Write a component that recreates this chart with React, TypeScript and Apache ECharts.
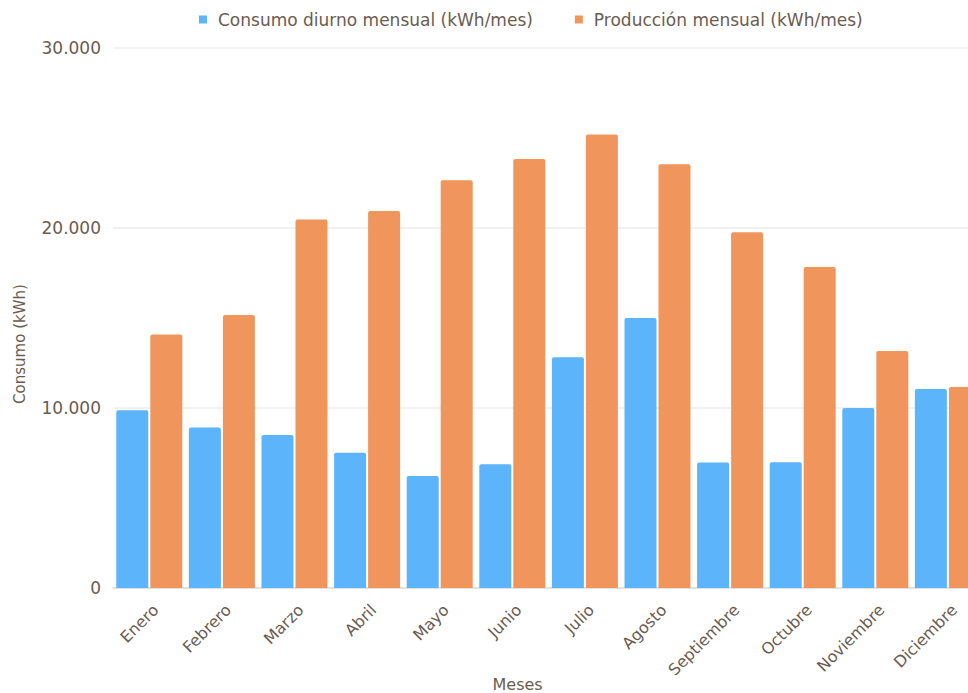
import React, { useEffect, useRef } from "react";
import * as echarts from "echarts";

const months = [
  "Enero",
  "Febrero",
  "Marzo",
  "Abril",
  "Mayo",
  "Junio",
  "Julio",
  "Agosto",
  "Septiembre",
  "Octubre",
  "Noviembre",
  "Diciembre",
];

const dailyConsumption = [9870, 8910, 8500, 7520, 6220, 6870, 12820, 15000, 6970, 6980, 10000, 11060];
const monthlyProduction = [14080, 15170, 20470, 20940, 22650, 23830, 25200, 23540, 19760, 17830, 13170, 11170];

const seriesNames = ["Consumo diurno mensual (kWh/mes)", "Producción mensual (kWh/mes)"];
const yMin = 0;
const yMax = 30000;
const yStep = 10000;

const BLUE = "#5cb4fa";
const ORANGE = "#f0955c";
const TEXT = "#6b5c50";
const FONT = "DejaVu Sans";

// Spanish-style thousands separator: 30000 -> "30.000"
const fmt = (v: number) => String(v).replace(/\B(?=(\d{3})+(?!\d))/g, ".");

export default function App() {
  const ref = useRef<HTMLDivElement>(null);

  useEffect(() => {
    if (!ref.current) return;
    const chart = echarts.init(ref.current, undefined, { renderer: "svg" });
    chart.setOption({
      animation: false,
      backgroundColor: "#ffffff",
      textStyle: { fontFamily: FONT },
      legend: {
        left: 199,
        top: 11,
        padding: 0,
        icon: "rect",
        itemWidth: 8,
        itemHeight: 8,
        itemGap: 42,
        textStyle: { color: TEXT, fontSize: 17, fontFamily: FONT, padding: [0, 0, 0, 6] },
        data: seriesNames,
      },
      // the plot runs past the right edge of the canvas, so December's bars are clipped
      grid: {
        left: 113,
        top: 48,
        width: 871.2,
        height: 540,
        containLabel: false,
        outerBoundsMode: "none",
      },
      xAxis: {
        type: "category",
        data: months,
        name: "Meses",
        nameLocation: "middle",
        nameGap: 88,
        nameMoveOverlap: false,
        nameTextStyle: { color: TEXT, fontSize: 16, fontFamily: FONT, padding: [0, 62, 0, 0] },
        axisLine: { show: true, lineStyle: { color: "#dcdcdc", width: 1.5 } },
        axisTick: { show: false },
        axisLabel: {
          rotate: 45,
          margin: 3,
          color: TEXT,
          fontSize: 16,
          fontFamily: FONT,
          verticalAlign: "top",
          padding: [8, 7, 0, 0],
        },
      },
      yAxis: {
        type: "value",
        min: yMin,
        max: yMax,
        interval: yStep,
        name: "Consumo (kWh)",
        nameLocation: "middle",
        nameGap: 86,
        nameMoveOverlap: false,
        nameTextStyle: { color: TEXT, fontSize: 15, fontFamily: FONT, padding: [0, 52, 0, 0] },
        axisLine: { show: false },
        axisTick: { show: false },
        splitLine: { lineStyle: { color: "#ececec", width: 1.5 } },
        axisLabel: { margin: 12, color: TEXT, fontSize: 17, fontFamily: FONT, formatter: fmt },
      },
      series: [
        {
          name: seriesNames[0],
          type: "bar",
          data: dailyConsumption,
          barWidth: 32,
          barGap: "6.25%",
          itemStyle: { color: BLUE, borderRadius: [2, 2, 0, 0] },
        },
        {
          name: seriesNames[1],
          type: "bar",
          data: monthlyProduction,
          barWidth: 32,
          barGap: "6.25%",
          itemStyle: { color: ORANGE, borderRadius: [2, 2, 0, 0] },
        },
      ],
    });
    return () => chart.dispose();
  }, []);

  return (
    <div
      ref={ref}
      style={{ position: "fixed", left: 0, top: 0, width: 968, height: 693, background: "#fff" }}
    />
  );
}
